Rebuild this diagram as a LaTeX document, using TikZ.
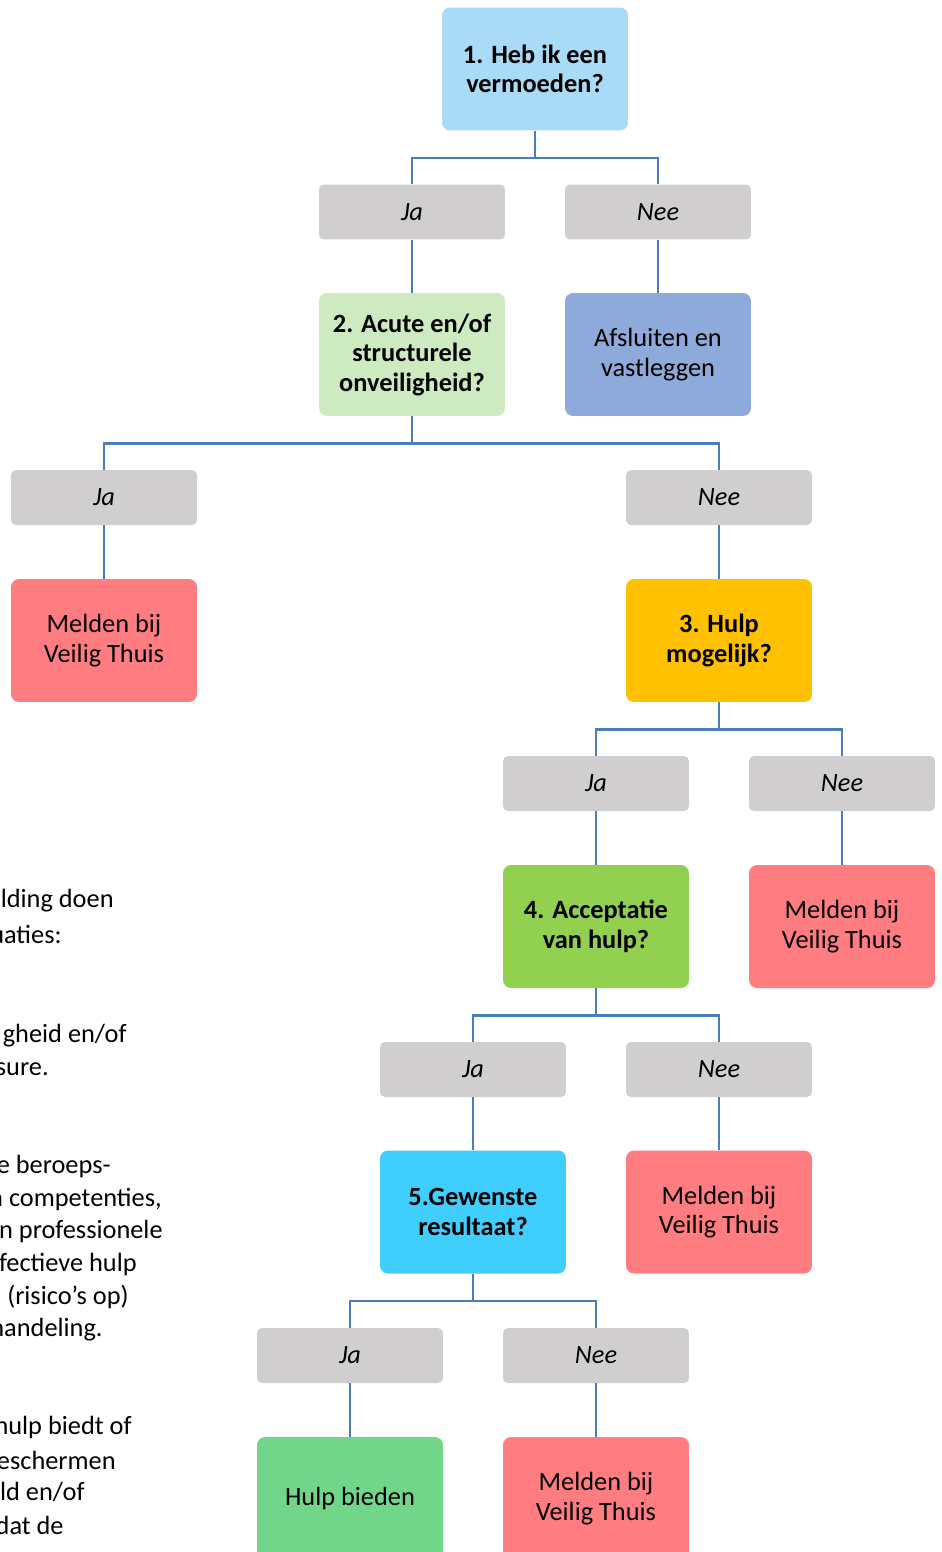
\documentclass[tikz,border=0pt]{standalone}
\usepackage{fontspec}
\setmainfont{Carlito}
\usetikzlibrary{calc}

\definecolor{lijnkleur}{RGB}{74,126,187}
\definecolor{grijs}{RGB}{208,206,206}
\definecolor{lichtblauw}{RGB}{169,219,247}
\definecolor{lichtgroen}{RGB}{205,234,192}
\definecolor{paars}{RGB}{142,170,219}
\definecolor{rood}{RGB}{255,124,128}
\definecolor{oranje}{RGB}{255,192,0}
\definecolor{groen}{RGB}{146,208,80}
\definecolor{cyaan}{RGB}{64,206,255}
\definecolor{hulpgroen}{RGB}{114,214,138}

\tikzset{
  vak/.style={rounded corners=0.16cm, minimum width=3.72cm, minimum height=2.46cm,
    align=center, inner sep=2pt, font=\fontsize{15}{16.8}\selectfont},
  vraag/.style={vak, font=\fontsize{15}{16.8}\selectfont\bfseries},
  keuze/.style={rounded corners=0.1cm, fill=grijs, minimum width=3.72cm,
    minimum height=1.1cm, font=\fontsize{15}{16.8}\selectfont\itshape},
  lijn/.style={draw=lijnkleur, line width=1.4pt},
  tekst/.style={anchor=east, inner sep=0pt, font=\fontsize{15}{16.8}\selectfont}
}

\begin{document}
\begin{tikzpicture}[x=0.02cm, y=-0.02cm]
\useasboundingbox (0,0) rectangle (941,1552);

% vragen en uitkomsten
\node[vraag, fill=lichtblauw] (v1) at (535,69) {1. Heb ik een\\vermoeden?};
\node[keuze] (ja1) at (412,212) {Ja};
\node[keuze] (nee1) at (658,212) {Nee};
\node[vraag, fill=lichtgroen] (v2) at (412,354.5) {2. Acute en/of\\structurele\\onveiligheid?};
\node[vak, fill=paars] (afs) at (658,354.5) {Afsluiten en\\vastleggen};

\node[keuze] (ja2) at (104,497.5) {Ja};
\node[keuze] (nee2) at (719,497.5) {Nee};
\node[vak, fill=rood] (meld1) at (104,640.5) {Melden bij\\Veilig Thuis};
\node[vraag, fill=oranje] (v3) at (719,640.5) {3. Hulp\\mogelijk?};

\node[keuze] (ja3) at (596,783.5) {Ja};
\node[keuze] (nee3) at (842,783.5) {Nee};
\node[vraag, fill=groen] (v4) at (596,926.5) {4. Acceptatie\\van hulp?};
\node[vak, fill=rood] (meld2) at (842,926.5) {Melden bij\\Veilig Thuis};

\node[keuze] (ja4) at (473,1069.5) {Ja};
\node[keuze] (nee4) at (719,1069.5) {Nee};
\node[vraag, fill=cyaan] (v5) at (473,1212) {5.Gewenste\\resultaat?};
\node[vak, fill=rood] (meld3) at (719,1212) {Melden bij\\Veilig Thuis};

\node[keuze] (ja5) at (350,1355.5) {Ja};
\node[keuze] (nee5) at (596,1355.5) {Nee};
\node[vak, fill=hulpgroen] (hulp) at (350,1498.5) {Hulp bieden};
\node[vak, fill=rood] (meld4) at (596,1498.5) {Melden bij\\Veilig Thuis};

% vertakkingen
\foreach \v/\j/\n in {v1/ja1/nee1, v2/ja2/nee2, v3/ja3/nee3, v4/ja4/nee4, v5/ja5/nee5} {
  \draw[lijn] (\v.south) -- ++(0,27) coordinate (m\v);
  \draw[lijn] (\j.north) |- (m\v) -| (\n.north);
}
\foreach \a/\b in {ja1/v2, nee1/afs, ja2/meld1, nee2/v3, ja3/v4, nee3/meld2,
                   ja4/v5, nee4/meld3, ja5/hulp, nee5/meld4}
  \draw[lijn] (\a.south) -- (\b.north);

% tekst links (afgesneden)
\foreach \t/\x/\y in {{lding doen}/114/901, {uaties:}/62/934,
  {gheid en/of}/127/1036, {sure.}/49/1069,
  {e beroeps-}/111/1166, {n competenties,}/162/1199, {n professionele}/163/1231,
  {fectieve hulp}/137/1264, {(risico’s op)}/129/1297, {handeling.}/103/1330,
  {hulp biedt of}/132/1427, {eschermen}/116/1460, {ld en/of}/85/1492, {dat de}/64/1525}
  \node[tekst] (links\y) at (\x,\y) {\t};
\end{tikzpicture}
\end{document}
